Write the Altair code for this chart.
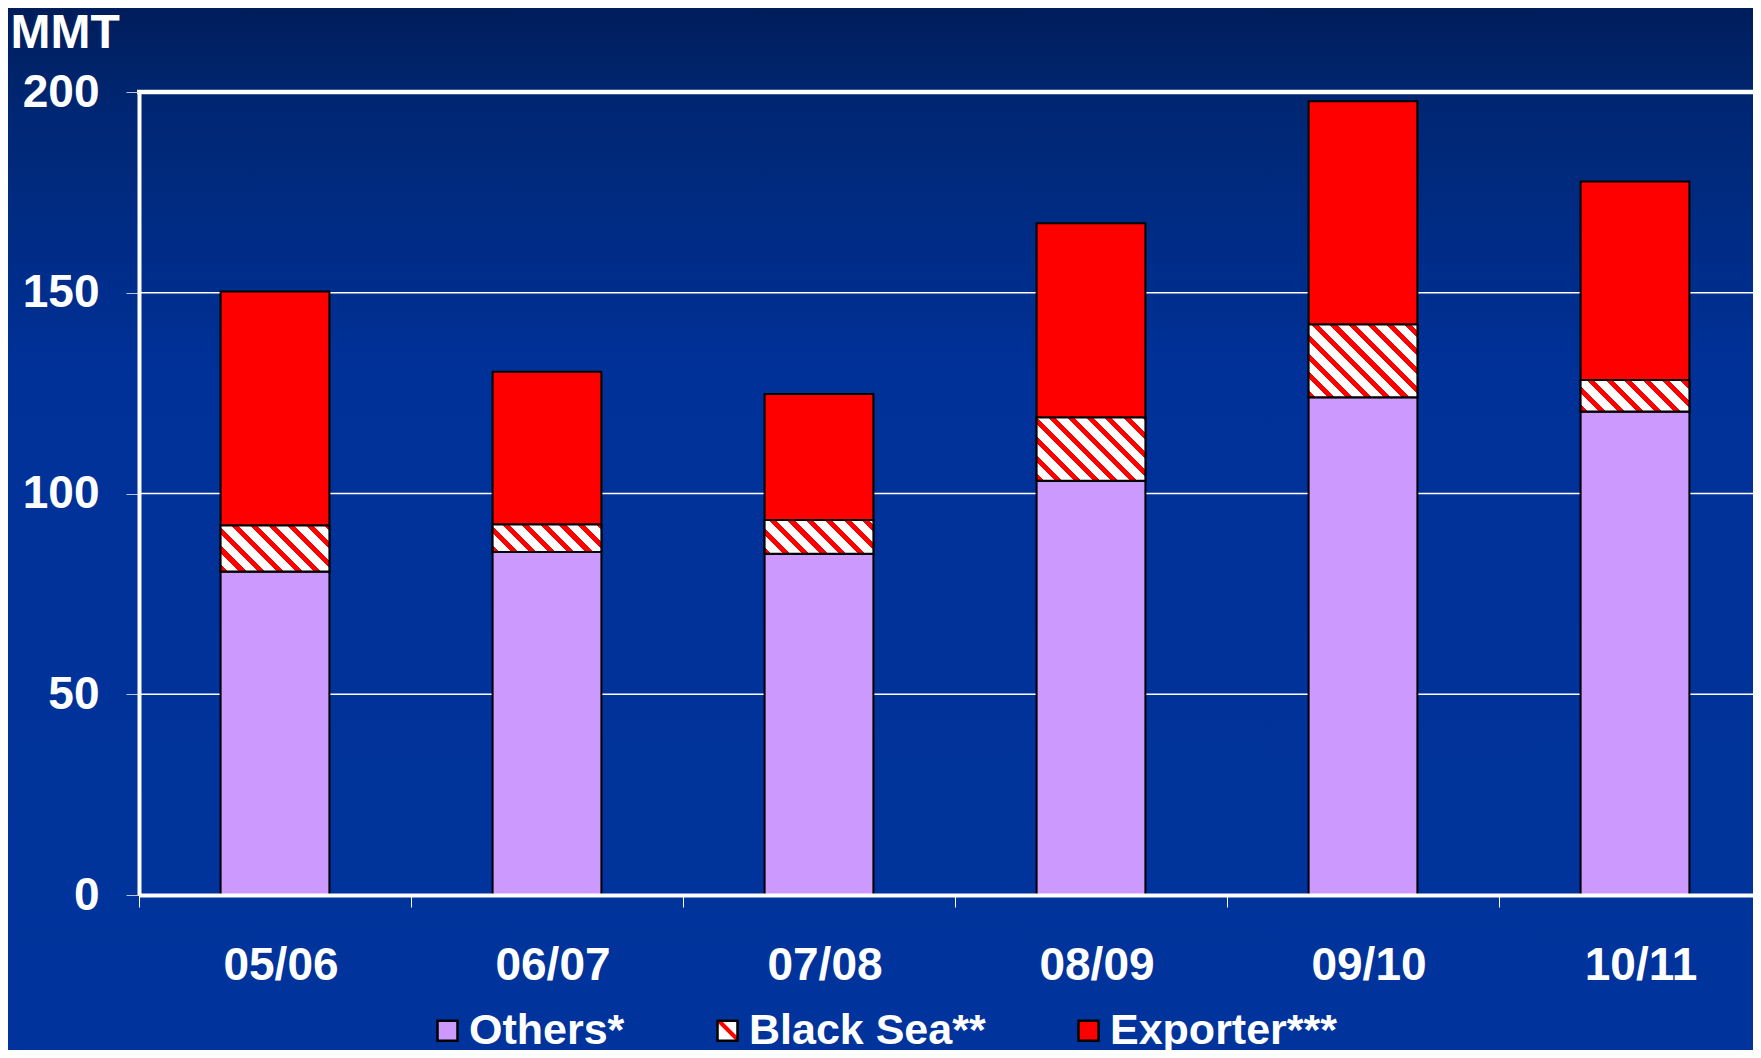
import altair as alt
import pandas as pd

# ---------------- data ----------------
seasons = ["05/06", "06/07", "07/08", "08/09", "09/10", "10/11"]
others = [80.6, 85.4, 85.0, 103.2, 124.0, 120.4]
black_sea = [11.4, 6.9, 8.4, 15.7, 18.1, 7.9]
exporter = [58.3, 38.0, 31.4, 48.4, 55.6, 49.4]
series = ["Others*", "Black Sea**", "Exporter***"]
y_ticks = [0, 50, 100, 150, 200]

# ---------------- styling ----------------
FONT = "Liberation Sans"
LAVENDER = "#CC99FF"
RED = "#FF0000"
SVG_W, SVG_H = 1745, 1042          # page is 1761x1058 with an 8px body margin
PAD_L, PAD_T = 131, 84             # plot origin at page (139, 92)
PLOT_W = SVG_W - PAD_L
PLOT_H = 803
STEP = 272
BAR_FRAC = 0.4
PX_PER_UNIT = PLOT_H / 200.0

rows = []
for i, s in enumerate(seasons):
    for k, (name, vals) in enumerate(zip(series, [others, black_sea, exporter])):
        rows.append({"season": s, "series": name, "value": vals[i], "order": k})
df = pd.DataFrame(rows)

hatch_df = pd.DataFrame({
    "season": seasons,
    "lo": others,
    "hi": [o + b for o, b in zip(others, black_sea)],
})
grid_df = pd.DataFrame({"tick": y_ticks})

x_scale = alt.Scale(domain=seasons, range=[0, STEP * len(seasons)], paddingInner=0, paddingOuter=0)
x_axis = alt.Axis(
    title=None, labelAngle=0, labelFont=FONT, labelFontSize=46, labelFontWeight="bold",
    labelColor="white", bandPosition=0, labelOffset=6, labelPadding=36,
    tickSize=12, tickColor="white", tickWidth=1, domainColor="white", domainWidth=4,
    grid=False, zindex=1,
)
y_scale = alt.Scale(domain=[0, 200], nice=False)
y_axis = alt.Axis(
    values=y_ticks, title="MMT", titleAngle=0, titleAlign="left", titleBaseline="alphabetic",
    titleX=-129, titleY=-45, titleFont=FONT, titleFontSize=48, titleFontWeight="bold",
    titleColor="white", labelFont=FONT, labelFontSize=46, labelFontWeight="bold",
    labelColor="white", labelPadding=27, tickSize=13, tickColor="#b8c4e6", tickWidth=1,
    domainColor="white", domainWidth=4, grid=False, zindex=1,
)

legend = alt.Legend(
    orient="none", legendX=287, legendY=917, direction="horizontal", title=None,
    labelFont=FONT, labelFontSize=43, labelFontWeight="bold", labelColor="white",
    labelLimit=400, labelOffset=0, symbolType="M-1.15,-1.15H1.15V1.15H-1.15Z", symbolSize=302,
    symbolStrokeColor="black", symbolStrokeWidth=2.5, symbolOpacity=1,
    columnPadding=81, padding=0,
)

# page background (dark navy at the top fading into royal blue)
bg = alt.Chart(pd.DataFrame({"k": [0]})).mark_rect(
    fill={"gradient": "linear", "x1": 0, "y1": 0, "x2": 0, "y2": 1,
          "stops": [{"offset": 0, "color": "#001d5b"}, {"offset": 0.1, "color": "#002774"},
                    {"offset": 0.35, "color": "#003198"}, {"offset": 1, "color": "#00349c"}]}
).encode(x=alt.value(-PAD_L), x2=alt.value(PLOT_W), y=alt.value(-PAD_T), y2=alt.value(SVG_H - PAD_T))

# horizontal grid lines (behind the bars); the 200 line doubles as the plot's top border
grid = alt.Chart(grid_df).transform_filter("datum.tick > 0 && datum.tick < 200").mark_rule(
    color="white", strokeWidth=1.3
).encode(y=alt.Y("tick:Q", scale=y_scale, axis=y_axis), x=alt.value(0), x2=alt.value(PLOT_W))
top_line = alt.Chart(grid_df).transform_filter("datum.tick == 200").mark_rule(
    color="white", strokeWidth=4.5
).encode(y=alt.Y("tick:Q", scale=y_scale, axis=y_axis), x=alt.value(-2), x2=alt.value(PLOT_W))

bars = alt.Chart(df).mark_bar(
    stroke="black", strokeWidth=2, width=alt.RelativeBandSize(BAR_FRAC)
).encode(
    x=alt.X("season:N", sort=seasons, scale=x_scale, axis=x_axis),
    y=alt.Y("value:Q", stack="zero", scale=y_scale, axis=y_axis),
    fill=alt.Fill("series:N", scale=alt.Scale(domain=series, range=[LAVENDER, "rgba(255,255,255,0)", RED]),
                  legend=legend),
    order=alt.Order("order:Q"),
)


def hatch_gradient(h_px, w_px=STEP * BAR_FRAC, period=18.7, frac=0.38):
    L = w_px + h_px
    stops = []
    pos = 0.0
    while pos < L - 1e-6:
        a = pos / L
        b = min((pos + frac * period) / L, 1.0)
        c = min((pos + period) / L, 1.0)
        stops += [{"offset": a, "color": RED}, {"offset": b, "color": RED},
                  {"offset": b, "color": "white"}, {"offset": c, "color": "white"}]
        pos += period
    d = w_px * w_px + h_px * h_px
    return {"gradient": "linear", "x1": 0, "y1": 1,
            "x2": w_px * L / d, "y2": 1 - h_px * L / d, "stops": stops}


hatch_layers = []
for s, b in zip(seasons, black_sea):
    hatch_layers.append(
        alt.Chart(hatch_df).transform_filter(alt.datum.season == s).mark_bar(
            fill=hatch_gradient(b * PX_PER_UNIT), stroke="black", strokeWidth=2,
            width=alt.RelativeBandSize(BAR_FRAC),
        ).encode(
            x=alt.X("season:N", sort=seasons, scale=x_scale, axis=x_axis),
            y=alt.Y("lo:Q", scale=y_scale, axis=y_axis),
            y2="hi:Q",
        )
    )

# hatched legend swatch (under the legend's transparent Black Sea symbol)
SW_X, SW_Y = 579, 928
swatch = alt.Chart(pd.DataFrame({"k": [0]})).mark_rect(fill="white").encode(
    x=alt.value(SW_X), x2=alt.value(SW_X + 20), y=alt.value(SW_Y), y2=alt.value(SW_Y + 20)
)
swatch_line = alt.Chart(pd.DataFrame({"k": [0]})).mark_rule(color=RED, strokeWidth=4).encode(
    x=alt.value(SW_X + 1), x2=alt.value(SW_X + 19), y=alt.value(SW_Y + 1), y2=alt.value(SW_Y + 19)
)

chart = alt.layer(bg, grid, top_line, bars, *hatch_layers, swatch, swatch_line).properties(
    width=PLOT_W, height=PLOT_H,
    autosize=alt.AutoSizeParams(type="none"),
    padding={"left": PAD_L, "top": PAD_T, "right": 0, "bottom": SVG_H - PAD_T - PLOT_H},
    background="#00329a",
).configure_view(stroke="transparent")

chart.save("out.html", embed_options={"renderer": "svg", "actions": False})
